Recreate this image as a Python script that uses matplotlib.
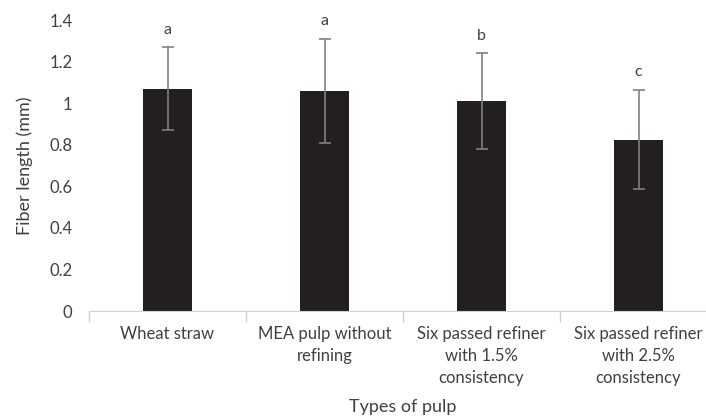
import matplotlib
matplotlib.use("Agg")
import matplotlib.pyplot as plt
import numpy as np

categories = ["Wheat straw", "MEA pulp without\nrefining",
              "Six passed refiner\nwith 1.5%\nconsistency",
              "Six passed refiner\nwith 2.5%\nconsistency"]
fiber_length = [1.07, 1.06, 1.01, 0.825]
fiber_err = [0.20, 0.25, 0.23, 0.24]
letters = ["a", "a", "b", "c"]
y_ticks = [0, 0.2, 0.4, 0.6, 0.8, 1.0, 1.2, 1.4]
y_tick_labels = ["0", "0.2", "0.4", "0.6", "0.8", "1", "1.2", "1.4"]

plt.rcParams['font.family'] = ['Lato', 'DejaVu Sans']

fig = plt.figure(figsize=(7.06, 4.17), dpi=100)
ax = fig.add_axes([89 / 706, 0.254, 628 / 706, 0.698])

x = np.arange(len(categories))
ax.bar(x, fiber_length, width=0.31, color="#231f20", zorder=2)
ax.errorbar(x, fiber_length, yerr=fiber_err, fmt="none", ecolor="#808080",
            elinewidth=1.2, capsize=4, capthick=1.2, zorder=3)

for xi, v, e, lab in zip(x, fiber_length, fiber_err, letters):
    ax.text(xi, v + e + 0.05, lab, ha="center", va="bottom", fontsize=11.5, color="#404040")

ax.set_xlim(-0.5, len(categories) - 0.5)
ax.set_ylim(0, 1.4)
ax.set_yticks(y_ticks)
ax.set_yticklabels(y_tick_labels)
ax.tick_params(axis="y", length=0, pad=12, labelsize=12, labelcolor="#404040")

ax.set_xticks(x)
ax.set_xticklabels(categories, linespacing=1.45)
ax.tick_params(axis="x", which="major", length=0, pad=11, labelsize=12, labelcolor="#404040")
ax.set_xticks(np.arange(-0.5, len(categories), 1), minor=True)
ax.tick_params(axis="x", which="minor", length=8, color="#d0d0d0", width=1)

for s in ["top", "right", "left"]:
    ax.spines[s].set_visible(False)
ax.spines["bottom"].set_color("#d0d0d0")

ax.set_ylabel("Fiber length (mm)", fontsize=13, color="#404040", labelpad=12)
ax.set_xlabel("Types of pulp", fontsize=13, color="#404040", labelpad=9)

fig.savefig("out.png", dpi=100)
